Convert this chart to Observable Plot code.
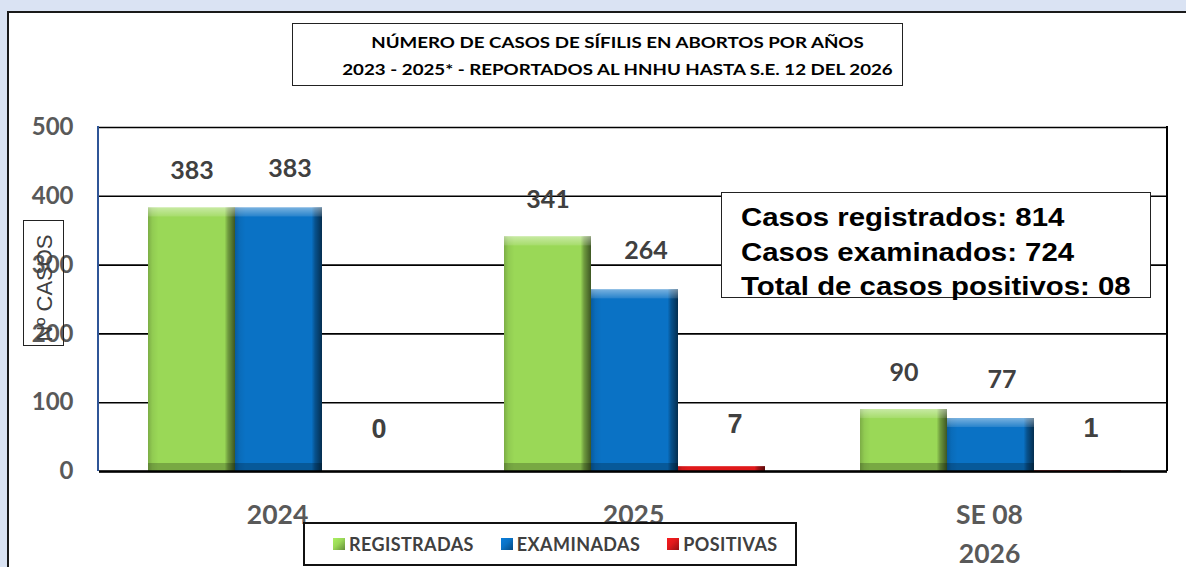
<!DOCTYPE html>
<html><head><meta charset="utf-8">
<script src="https://cdn.jsdelivr.net/npm/d3@7"></script>
<script src="https://cdn.jsdelivr.net/npm/@observablehq/plot@0.6"></script>
<style>
html,body{margin:0;padding:0;background:#dae3f3;}
#page{position:relative;width:1186px;height:567px;overflow:hidden;}
#panel{position:absolute;left:7px;top:11px;right:-5px;bottom:-5px;background:#fff;border-left:2px solid #1a1a1a;border-top:2px solid #1a1a1a;}
#chart{position:absolute;left:0;top:0;}
#title{position:absolute;left:292px;top:23px;width:611px;height:63px;border:1.5px solid #222;box-sizing:border-box;background:#fff;padding-left:40px;
  font:bold 16px Lato,sans-serif;color:#000;text-align:center;display:flex;flex-direction:column;justify-content:center;line-height:27px;}
#title div{transform:scaleX(1.17);white-space:nowrap;}
#frame{position:absolute;left:97px;top:126px;width:1071px;height:345px;border-left:2px solid #2f5597;border-right:2px solid #000;box-sizing:border-box;pointer-events:none;}
#ylab{position:absolute;left:23px;top:220px;width:41px;height:126px;border:1.5px solid #222;box-sizing:border-box;}
#ylabtxt{position:absolute;left:45px;top:288px;transform:translate(-50%,-50%) rotate(-90deg);white-space:nowrap;font:22px "Liberation Sans",Arial,sans-serif;color:#404040;}
#note{position:absolute;left:721px;top:192px;width:430px;height:106px;border:1.5px solid #222;box-sizing:border-box;background:#fff;
  font:bold 26px "Liberation Sans",Arial,sans-serif;color:#000;padding:7px 0 0 19px;line-height:34.5px;white-space:nowrap;}
#note div{transform:scaleX(1.13);transform-origin:left center;}
#legend{position:absolute;left:303px;top:522px;width:494px;height:44px;border:2px solid #111;box-sizing:border-box;background:#fff;
  display:flex;align-items:center;padding-left:28px;gap:27px;font:bold 18px Lato,sans-serif;letter-spacing:0.4px;color:#404040;}
#legend .it{display:flex;align-items:center;gap:4px;}
#legend .sw{width:12px;height:12px;display:inline-block;}
</style>
</head><body>
<div id="page">
  <div id="panel"></div>
  <div id="chart"></div>
  <div id="frame"></div>
  <div id="title"></div>
  <div id="ylab"></div>
  <div id="ylabtxt"></div>
  <div id="note"></div>
  <div id="legend"></div>
</div>
<script>
// ---- data ----
const titleLines = ["NÚMERO DE CASOS DE SÍFILIS EN ABORTOS POR AÑOS", "2023 - 2025* - REPORTADOS AL HNHU HASTA S.E. 12 DEL 2026"];
const years = ["2024", "2025", "SE 08\n2026"];
const series = ["REGISTRADAS", "EXAMINADAS", "POSITIVAS"];
const registradas = [383, 341, 90];
const examinadas = [383, 264, 77];
const positivas = [0, 7, 1];
const yTicks = [0, 100, 200, 300, 400, 500];
const yLabel = "Nº CASOS";
const noteLines = ["Casos registrados: 814", "Casos examinados: 724", "Total de casos positivos: 08"];
const colors = ["#9ad857", "#0a72c5", "#e0191b"];

const values = [registradas, examinadas, positivas];
const data = years.flatMap((year, i) => series.map((s, j) => ({year, series: s, value: values[j][i]})));

// ---- html text ----
document.getElementById("title").innerHTML = titleLines.map(t => `<div>${t}</div>`).join("");
document.getElementById("ylabtxt").textContent = yLabel;
document.getElementById("note").innerHTML = noteLines.map(t => `<div>${t}</div>`).join("");
document.getElementById("legend").innerHTML = series.map((s, j) =>
  `<span class="it"><span class="sw" style="background:linear-gradient(135deg, ${d3.color(colors[j]).brighter(0.3)} 0%, ${colors[j]} 45%, ${d3.color(colors[j]).darker(1.2)} 100%)"></span>${s}</span>`).join("");

// ---- plot ----
const big = data.filter(d => d.value >= 20);
const plot = Plot.plot({
  width: 1186, height: 567,
  marginLeft: 98, marginRight: 18, marginTop: 127, marginBottom: 96,
  style: {background: "transparent", fontFamily: "Lato, sans-serif", overflow: "visible"},
  fx: {domain: years, padding: 0, label: null},
  x: {domain: series, paddingInner: 0, paddingOuter: 0.53, axis: null},
  y: {domain: [0, 500], label: null},
  color: {domain: series, range: colors},
  marks: [
    Plot.ruleY(yTicks, {stroke: "#000", strokeWidth: 1.6}),
    Plot.barY(data, {fx: "year", x: "series", y: "value", fill: "series", dx: 1}),
    Plot.barY(data, {fx: "year", x: "series", y: "value", fill: "url(#hshade)", dx: 1}),
    Plot.barY(big, {fx: "year", x: "series", y1: "value", y2: "value", insetBottom: -9, fill: "url(#tophi)", dx: 1}),
    Plot.barY(big, {fx: "year", x: "series", y1: 0, y2: 0, insetTop: -8, fill: "#000", fillOpacity: 0.22, dx: 1}),
    Plot.ruleY([0], {stroke: "#000", strokeWidth: 2.4}),
    Plot.text(data.filter(d => d.series === series[0]), {fx: "year", x: "series", y: "value", text: d => String(d.value),
      dy: -37, dx: 1, fontSize: 25, fontWeight: "bold", fill: "#404040"}),
    Plot.text(data.filter(d => d.series === series[1]), {fx: "year", x: "series", y: "value", text: d => String(d.value),
      dy: -39, dx: 12, fontSize: 25, fontWeight: "bold", fill: "#404040"}),
    Plot.text(data.filter(d => d.series === series[2]), {fx: "year", x: "series", y: "value", text: d => String(d.value),
      dy: -42, dx: 14, fontSize: 27, fontWeight: "bold", fontFamily: "Liberation Sans, Arial, sans-serif", fill: "#404040"}),
    Plot.axisY(yTicks, {anchor: "left", tickSize: 0, tickPadding: 26, fontSize: 24, fontWeight: "bold", color: "#595959", label: null}),
    Plot.axisFx({anchor: "bottom", tickSize: 0, tickPadding: 25, fontSize: 26.5, fontWeight: "bold", color: "#595959", label: null, lineHeight: 1.46})
  ]
});
document.getElementById("chart").appendChild(plot);

// gradient defs for bevel look
const defs = d3.select(plot).insert("defs", ":first-child");
const h = defs.append("linearGradient").attr("id", "hshade").attr("x1", 0).attr("x2", 1).attr("y1", 0).attr("y2", 0);
[[0, 0.2], [0.05, 0.06], [0.12, 0], [0.88, 0], [0.92, 0.28], [1, 0.6]].forEach(([o, a]) =>
  h.append("stop").attr("offset", o).attr("stop-color", "#000").attr("stop-opacity", a));
const t = defs.append("linearGradient").attr("id", "tophi").attr("x1", 0).attr("x2", 0).attr("y1", 0).attr("y2", 1);
[[0, 0.45], [1, 0.12]].forEach(([o, a]) =>
  t.append("stop").attr("offset", o).attr("stop-color", "#fff").attr("stop-opacity", a));
</script>
</body></html>
